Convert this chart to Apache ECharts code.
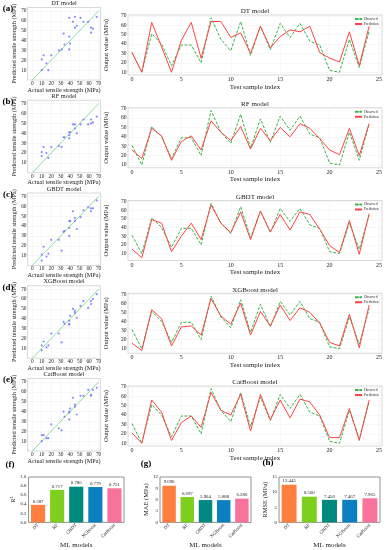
<!DOCTYPE html>
<html><head><meta charset="utf-8">
<script src="https://cdn.jsdelivr.net/npm/echarts@6/dist/echarts.min.js"></script>
<style>html,body{margin:0;padding:0;background:#fff}#c{width:386px;height:550px}</style>
</head><body><div id="c"></div>
<script>
const models = ['DT', 'RF', 'GBDT', 'XGBoost', 'CatBoost'];
const panelLetters = ['(a)', '(b)', '(c)', '(d)', '(e)'];
const observed = [31, 10, 51, 40, 17, 39, 39, 20, 68, 45, 33, 64, 28, 59, 34, 62, 47, 62, 43, 39, 12, 10, 45, 15, 54];
const predDT   = [31, 10, 63, 37, 10, 44, 63, 25, 64, 64, 47, 52, 30, 59, 36, 48, 55, 53, 59, 31, 25, 21, 53, 17, 59];
const predRF   = [26, 17, 49, 41, 15, 35, 41, 26, 57, 45, 36, 51, 27, 49, 36, 50, 40, 54, 49, 38, 26, 21, 49, 20, 54];
const predGBDT = [15, 5, 49, 45, 12, 30, 45, 26, 66, 45, 34, 58, 26, 59, 35, 55, 37, 58, 55, 38, 19, 11, 48, 9, 56];
const predXGB  = [16, 8, 53, 43, 13, 34, 35, 25, 65, 46, 37, 60, 25, 51, 35, 58, 41, 55, 50, 38, 17, 13, 48, 11, 58];
const predCat  = [21, 10, 56, 43, 13, 32, 39, 27, 64, 45, 40, 62, 23, 62, 35, 56, 37, 57, 54, 40, 16, 16, 47, 13, 56];
const r2Values   = [0.387, 0.717, 0.786, 0.779, 0.751];
const maeValues  = [9.690, 6.697, 5.904, 5.888, 6.286];
const rmseValues = [12.443, 8.500, 7.456, 7.467, 7.965];
const scatterXTicks = [0, 10, 20, 30, 40, 50, 60, 70];
const scatterYTicks = [10, 20, 30, 40, 50, 60, 70];
const lineXTicks = [0, 5, 10, 15, 20, 25];
const lineYTicks = [10, 20, 30, 40, 50, 60, 70];
const diagonal = [[0, 0], [70, 70]];

const preds = [predDT, predRF, predGBDT, predXGB, predCat];
const barColors = ['#ff7f3f', '#7fcf1f', '#00897f', '#0b7fc0', '#f7739b'];
const FONT = 'Liberation Serif';
const PITCH = 92.75;

const grid = [], xAxis = [], yAxis = [], series = [], legend = [], graphic = [];
const txt = (x, y, s, size, opt) => graphic.push(Object.assign({
  type: 'text', x: x, y: y, silent: true,
  style: Object.assign({ text: s, font: size + 'px "' + FONT + '"', fill: '#222', textAlign: 'center', textVerticalAlign: 'middle' }, opt || {})
}));

for (let r = 0; r < 5; r++) {
  const off = r * PITCH;
  // scatter grid
  const gs = grid.length;
  grid.push({ left: 27.5, top: 7.5 + off, width: 73, height: 72.5, show: true, borderColor: '#cfcfcf', borderWidth: 0.8, backgroundColor: '#fff' });
  xAxis.push({
    type: 'value', gridIndex: gs, min: -5, max: 72,
    name: 'Actual tensile strength (MPa)', nameLocation: 'middle', nameGap: 6.2,
    nameTextStyle: { fontFamily: FONT, fontSize: 6.2, color: '#222' },
    axisLine: { show: false }, axisTick: { show: false, customValues: scatterXTicks },
    axisLabel: { customValues: scatterXTicks, fontFamily: FONT, fontSize: 5.3, color: '#222', margin: 1 },
    splitLine: { lineStyle: { color: '#efefef', width: 0.5 } }
  });
  yAxis.push({
    type: 'value', gridIndex: gs, min: 0, max: 73.5,
    name: 'Predicted tensile strength (MPa)', nameLocation: 'middle', nameGap: 7,
    nameTextStyle: { fontFamily: FONT, fontSize: 6.2, color: '#222' },
    axisLine: { show: false }, axisTick: { show: false, customValues: scatterYTicks },
    axisLabel: { customValues: scatterYTicks, fontFamily: FONT, fontSize: 5.3, color: '#222', margin: 1 },
    splitLine: { lineStyle: { color: '#efefef', width: 0.5 } }
  });
  series.push({
    type: 'line', xAxisIndex: gs, yAxisIndex: gs, data: diagonal, symbol: 'none', silent: true,
    lineStyle: { color: '#8fdca0', width: 1 }, z: 2
  });
  series.push({
    type: 'scatter', xAxisIndex: gs, yAxisIndex: gs, symbolSize: 2.2,
    data: observed.map((o, i) => [o, preds[r][i]]),
    itemStyle: { color: '#6f6fff' }, z: 3
  });
  txt(64, 3.6 + off, models[r] + ' model', 6.3);
  txt(8, 9 + off, panelLetters[r], 9, { font: 'bold 9px "' + FONT + '"', fill: '#000' });

  // line grid
  const gl = grid.length;
  const all = observed.concat(preds[r]);
  const mn = Math.min.apply(null, all), mx = Math.max.apply(null, all);
  const pad = 0.05 * (mx - mn);
  grid.push({ left: 128, top: 15 + off, width: 254, height: 60, show: true, borderColor: '#cfcfcf', borderWidth: 0.8 });
  xAxis.push({
    type: 'value', gridIndex: gl, min: -0.4, max: 25.3,
    name: 'Test sample index', nameLocation: 'middle', nameGap: 7,
    nameTextStyle: { fontFamily: FONT, fontSize: 7, color: '#222' },
    axisLine: { show: false }, axisTick: { show: false, customValues: lineXTicks },
    axisLabel: { customValues: lineXTicks, fontFamily: FONT, fontSize: 6, color: '#222', margin: 1.5 },
    splitLine: { lineStyle: { color: '#efefef', width: 0.5 } }
  });
  yAxis.push({
    type: 'value', gridIndex: gl, min: mn - pad, max: mx + pad,
    name: 'Output value (MPa)', nameLocation: 'middle', nameGap: 12,
    nameTextStyle: { fontFamily: FONT, fontSize: 6.5, color: '#222' },
    axisLine: { show: false }, axisTick: { show: false, customValues: lineYTicks },
    axisLabel: { customValues: lineYTicks, fontFamily: FONT, fontSize: 5.5, color: '#222', margin: 1.5 },
    splitLine: { lineStyle: { color: '#efefef', width: 0.5 } }
  });
  series.push({
    name: 'Observed', type: 'line', xAxisIndex: gl, yAxisIndex: gl, symbol: 'none',
    data: observed.map((v, i) => [i, v]),
    lineStyle: { color: '#3cb44b', width: 1, type: [3, 1.5] }, itemStyle: { color: '#3cb44b' }, z: 3
  });
  series.push({
    name: 'Prediction', type: 'line', xAxisIndex: gl, yAxisIndex: gl, symbol: 'none',
    data: preds[r].map((v, i) => [i, v]),
    lineStyle: { color: '#ff4444', width: 1 }, itemStyle: { color: '#ff4444' }, z: 4
  });
  legend.push({
    data: ['Observed', 'Prediction'], orient: 'vertical', left: 354, top: 17 + off,
    itemWidth: 7, itemHeight: 2, itemGap: 1, padding: 0,
    textStyle: { fontFamily: FONT, fontSize: 3.5, color: '#222', padding: [0, 0, 0, -3] }
  });
  txt(255, 11.5 + off, models[r] + ' model', 7);
}

// bar charts
const bars = [
  { letter: '(f)', lx: 10, ly: 465, left: 28.5, width: 95.5, values: r2Values, max: 1, interval: 0.2, name: 'R²', gap: 10, fmt: v => v.toFixed(1) },
  { letter: '(g)', lx: 146, ly: 464, left: 160, width: 91, values: maeValues, max: 12, interval: 3, name: 'MAE (MPa)', gap: 9, fmt: v => String(v) },
  { letter: '(h)', lx: 268, ly: 463, left: 279, width: 101, values: rmseValues, max: 15, interval: 5, name: 'RMSE (MPa)', gap: 8, fmt: v => String(v) }
];
bars.forEach(b => {
  const g = grid.length;
  grid.push({ left: b.left, top: 477, width: b.width, height: 48, show: true, borderColor: '#777', borderWidth: 0.8 });
  xAxis.push({
    type: 'category', gridIndex: g, data: models,
    name: 'ML models', nameLocation: 'middle', nameGap: 17,
    nameTextStyle: { fontFamily: FONT, fontSize: 7, color: '#222' },
    axisLine: { show: false }, axisTick: { show: false },
    axisLabel: { rotate: 45, fontFamily: FONT, fontSize: 4.8, color: '#222', margin: 2 }
  });
  yAxis.push({
    type: 'value', gridIndex: g, min: 0, max: b.max, interval: b.interval,
    name: b.name, nameLocation: 'middle', nameGap: b.gap,
    nameTextStyle: { fontFamily: FONT, fontSize: 6.5, color: '#222' },
    axisLine: { show: false }, axisTick: { show: false }, splitLine: { show: false },
    axisLabel: { fontFamily: FONT, fontSize: 4.8, color: '#222', margin: 2, formatter: b.fmt }
  });
  series.push({
    type: 'bar', xAxisIndex: g, yAxisIndex: g, barWidth: '74%',
    data: b.values.map((v, i) => ({ value: v, itemStyle: { color: barColors[i] } })),
    label: { show: true, position: 'top', distance: 1, fontFamily: FONT, fontSize: 4.8, color: '#222', formatter: p => p.value.toFixed(3) }
  });
  txt(b.lx, b.ly, b.letter, 9, { font: 'bold 9px "' + FONT + '"', fill: '#000' });
});

const chart = echarts.init(document.getElementById('c'), null, { renderer: 'canvas' });
chart.setOption({
  animation: false, backgroundColor: '#fff',
  textStyle: { fontFamily: FONT },
  grid, xAxis, yAxis, series, legend, graphic
});
</script>
</body></html>
